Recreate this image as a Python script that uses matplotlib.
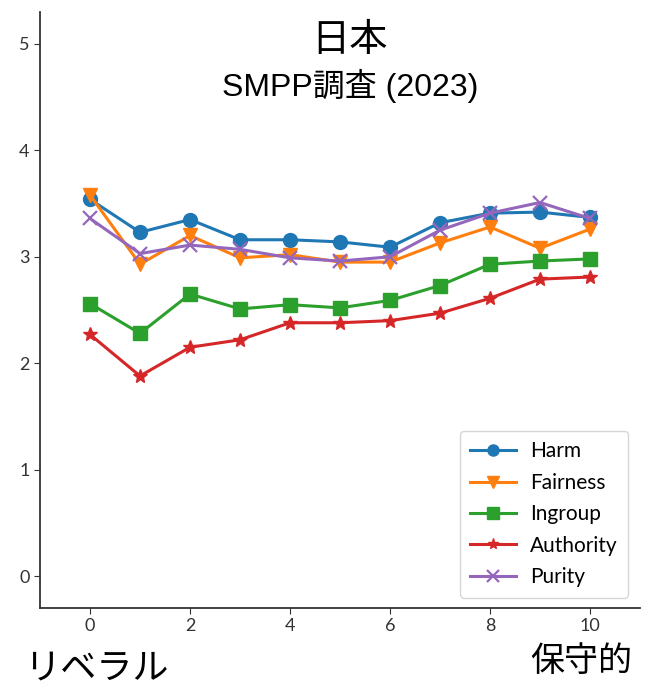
import matplotlib
matplotlib.use("Agg")
import matplotlib.pyplot as plt

x = list(range(11))
harm = [3.54, 3.23, 3.35, 3.16, 3.16, 3.14, 3.09, 3.32, 3.41, 3.42, 3.37]
fairness = [3.58, 2.93, 3.20, 2.99, 3.02, 2.95, 2.95, 3.13, 3.28, 3.08, 3.26]
ingroup = [2.56, 2.28, 2.65, 2.51, 2.55, 2.52, 2.59, 2.73, 2.93, 2.96, 2.98]
authority = [2.27, 1.88, 2.15, 2.22, 2.38, 2.38, 2.40, 2.47, 2.61, 2.79, 2.81]
purity = [3.36, 3.03, 3.11, 3.07, 2.99, 2.96, 3.00, 3.25, 3.41, 3.51, 3.36]

series = [
    ("Harm", harm, "o", "#1f77b4"),
    ("Fairness", fairness, "v", "#ff7f0e"),
    ("Ingroup", ingroup, "s", "#2ca02c"),
    ("Authority", authority, "*", "#d62728"),
    ("Purity", purity, "x", "#9467bd"),
]

fig = plt.figure(figsize=(6.47, 6.89), dpi=100)
ax = fig.add_axes([40 / 647, 1 - 608 / 689, 600 / 647, 596 / 689])

for name, vals, mk, col in series:
    ax.plot(x, vals, marker=mk, color=col, label=name, lw=2.2, markersize=10,
            markeredgewidth=1.6 if mk == "x" else 1)

ax.set_xlim(-1, 11)
ax.set_ylim(-0.3, 5.3)
ax.set_xticks([0, 2, 4, 6, 8, 10])
ax.set_yticks([0, 1, 2, 3, 4, 5])
ax.spines["top"].set_visible(False)
ax.spines["right"].set_visible(False)
for s in ("left", "bottom"):
    ax.spines[s].set_color("#333333")
    ax.spines[s].set_linewidth(1.3)
ax.tick_params(labelsize=13, colors="#333333", length=4)
for lab in ax.get_xticklabels() + ax.get_yticklabels():
    lab.set_family("Lato")

leg = ax.legend(loc="lower right", prop={"family": "Lato", "size": 15},
                borderpad=0.5, labelspacing=0.55, handlelength=2.2,
                handletextpad=0.7, markerscale=0.8,
                bbox_to_anchor=(0.998, 0.0))

fig.text(350 / 647, 1 - 40 / 689, "日本", ha="center", va="center",
         fontsize=27.5, family=["Noto Sans CJK JP"])
fig.text(350 / 647, 1 - 86 / 689, "SMPP調査 (2023)", ha="center", va="center",
         fontsize=23, family=["Liberation Sans", "Noto Sans CJK JP"])
fig.text(96 / 647, 1 - 669 / 689, "リベラル", ha="center", va="center",
         fontsize=26, family=["Noto Sans CJK JP"])
fig.text(581 / 647, 1 - 662 / 689, "保守的", ha="center", va="center",
         fontsize=24.5, family=["Noto Sans CJK JP"])

fig.savefig("out.png", dpi=100)
